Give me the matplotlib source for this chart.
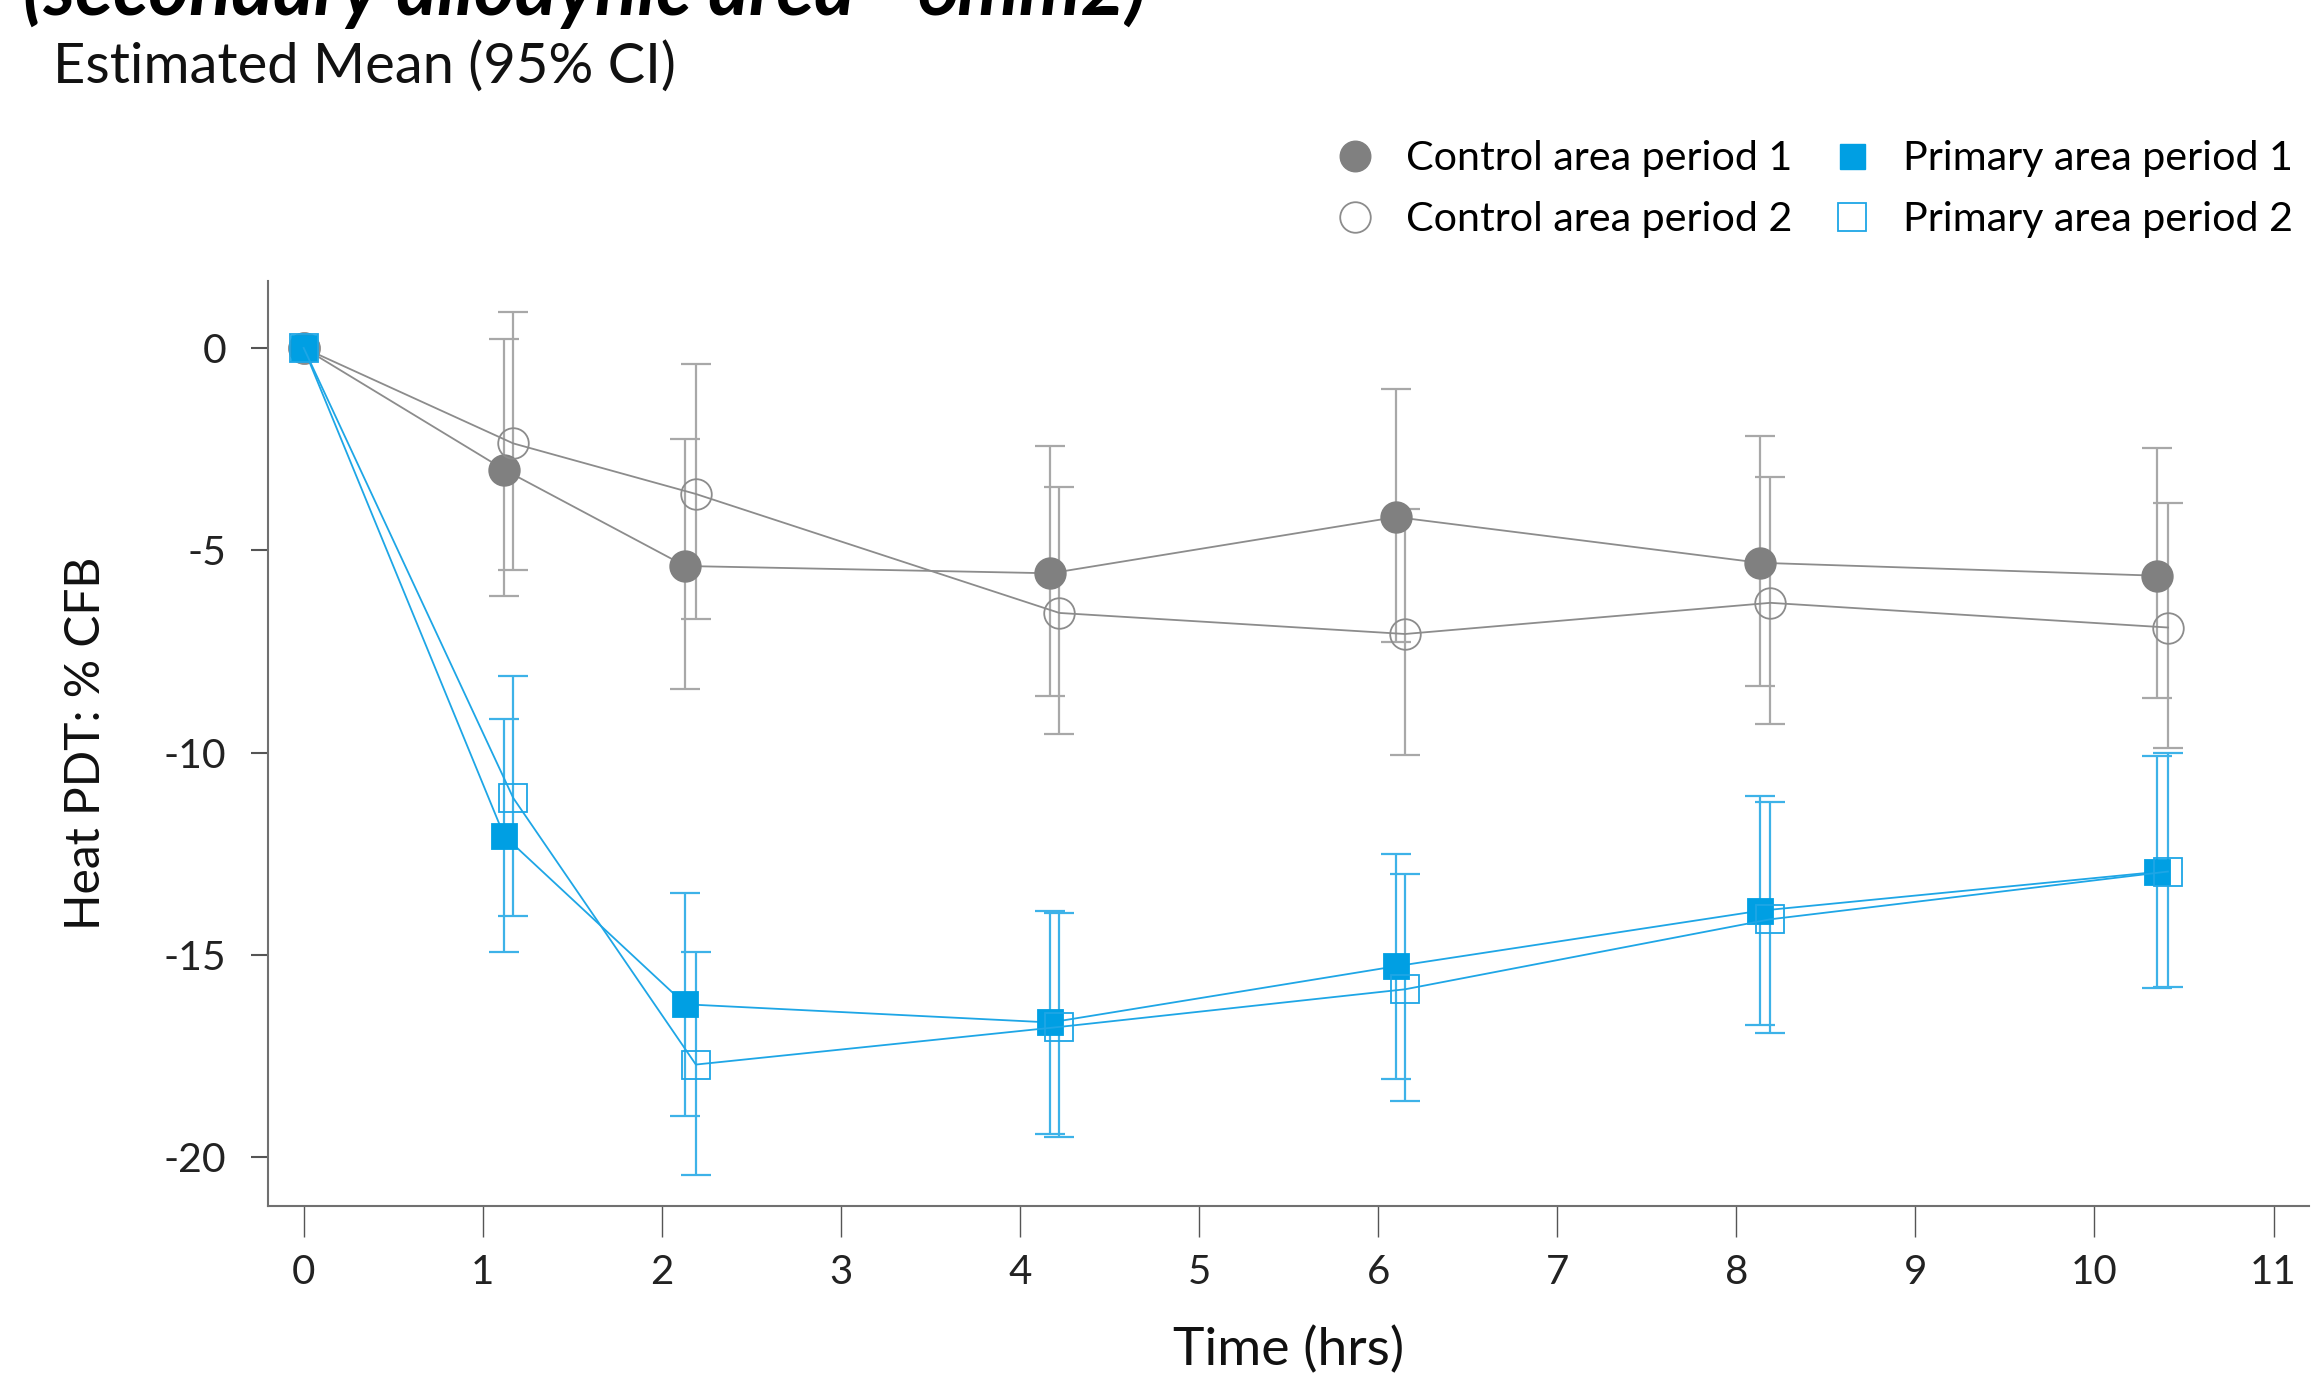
import numpy as np
import matplotlib.pyplot as plt
from matplotlib.lines import Line2D
from matplotlib.ticker import FuncFormatter

plt.rcParams['font.family'] = ['Lato', 'DejaVu Sans']

# time points (period 2 is drawn a little to the right of period 1)
time_p1 = [0, 1.12, 2.13, 4.17, 6.10, 8.13, 10.35]
time_p2 = [0, 1.17, 2.19, 4.22, 6.15, 8.19, 10.41]

# control area: estimated mean and 95% CI
control_p1 = [0, -3.01, -5.39, -5.57, -4.18, -5.31, -5.63]
control_p1_lo = [0, -6.14, -8.43, -8.61, -7.26, -8.36, -8.65]
control_p1_hi = [0, 0.22, -2.24, -2.43, -1.01, -2.17, -2.48]
control_p2 = [0, -2.36, -3.61, -6.55, -7.07, -6.30, -6.91]
control_p2_lo = [0, -5.49, -6.69, -9.54, -10.05, -9.30, -9.89]
control_p2_hi = [0, 0.88, -0.41, -3.45, -3.99, -3.20, -3.83]

# primary area: estimated mean and 95% CI
primary_p1 = [0, -12.06, -16.22, -16.67, -15.28, -13.91, -12.95]
primary_p1_lo = [0, -14.94, -18.98, -19.42, -18.06, -16.73, -15.82]
primary_p1_hi = [0, -9.16, -13.47, -13.92, -12.50, -11.08, -10.09]
primary_p2 = [0, -11.12, -17.71, -16.78, -15.85, -14.12, -12.94]
primary_p2_lo = [0, -14.03, -20.43, -19.51, -18.61, -16.93, -15.80]
primary_p2_hi = [0, -8.12, -14.94, -13.96, -13.01, -11.21, -10.01]

x_ticks = list(range(0, 12))
y_ticks = [0, -5, -10, -15, -20]

GREY = '#808080'
GREY_LINE = '#8c8c8c'
GREY_BAR = '#a8a8a8'
BLUE = '#009fe3'
BLUE_LINE = '#1ea6e6'
BLUE_BAR = '#3db2e8'

fig = plt.figure(figsize=(23.21, 13.76), dpi=100)
ax = fig.add_axes([0.1154, 0.1237, 0.8796, 0.672])

series = [
    (time_p1, control_p1, control_p1_lo, control_p1_hi, GREY_LINE, GREY_BAR, 'o', GREY, 22),
    (time_p2, control_p2, control_p2_lo, control_p2_hi, GREY_LINE, GREY_BAR, 'o', 'none', 22),
    (time_p1, primary_p1, primary_p1_lo, primary_p1_hi, BLUE_LINE, BLUE_BAR, 's', BLUE, 18),
    (time_p2, primary_p2, primary_p2_lo, primary_p2_hi, BLUE_LINE, BLUE_BAR, 's', 'none', 20),
]

for t, m, lo, hi, lc, bc, mk, fc, ms in series:
    t = np.array(t)
    m = np.array(m)
    err = np.vstack([m - np.array(lo), np.array(hi) - m])
    # error bars (skip baseline point)
    ax.errorbar(t[1:], m[1:], yerr=err[:, 1:], fmt='none', ecolor=bc,
                elinewidth=1.6, capsize=11, capthick=1.6, zorder=2)
    edge = lc if fc == 'none' else fc
    ax.plot(t, m, color=lc, lw=1.3, marker=mk, ms=ms, mfc=fc, mec=edge,
            mew=1.3, zorder=3)

ax.set_xlim(-0.2, 11.2)
ax.set_ylim(-21.2, 1.65)
ax.set_xticks(x_ticks)
ax.set_yticks(y_ticks)
ax.yaxis.set_major_formatter(FuncFormatter(lambda v, p: '%d' % v))

for s in ['top', 'right']:
    ax.spines[s].set_visible(False)
for s in ['left', 'bottom']:
    ax.spines[s].set_color('#707070')
    ax.spines[s].set_linewidth(1.5)

ax.tick_params(axis='x', length=22, width=1, color='#555555', pad=13,
               labelsize=29, labelcolor='#222222')
ax.tick_params(axis='y', length=12, width=1.5, color='#555555', pad=18,
               labelsize=29.5, labelcolor='#222222')

ax.set_xlabel('Time (hrs)', fontsize=38.5, color='#111111', labelpad=25)
ax.set_ylabel('Heat PDT: % CFB', fontsize=34.5, color='#111111', labelpad=40)

# titles (top one is cut off by the page edge, as in the source)
fig.text(0.010, 0.989, '(secondary allodynic area - 6mm2)', fontsize=56,
         fontstyle='italic', fontweight='bold', va='baseline', ha='left')
fig.text(0.023, 0.940, 'Estimated Mean (95% CI)', fontsize=40.4,
         va='baseline', ha='left', color='#111111')

handles = [
    Line2D([], [], ls='none', marker='o', ms=22, mfc=GREY, mec=GREY),
    Line2D([], [], ls='none', marker='o', ms=22, mfc='none', mec=GREY_LINE, mew=1.3),
    Line2D([], [], ls='none', marker='s', ms=18, mfc=BLUE, mec=BLUE),
    Line2D([], [], ls='none', marker='s', ms=20, mfc='none', mec=BLUE_LINE, mew=1.3),
]
labels = ['Control area period 1', 'Control area period 2',
          'Primary area period 1', 'Primary area period 2']
fig.legend(handles, labels, ncol=2, loc='upper right',
           bbox_to_anchor=(0.997, 0.913), frameon=False, fontsize=29.7,
           handlelength=1.0, handletextpad=0.74, columnspacing=0.95,
           labelspacing=0.58, borderpad=0)

fig.savefig('out.png', dpi=100)
